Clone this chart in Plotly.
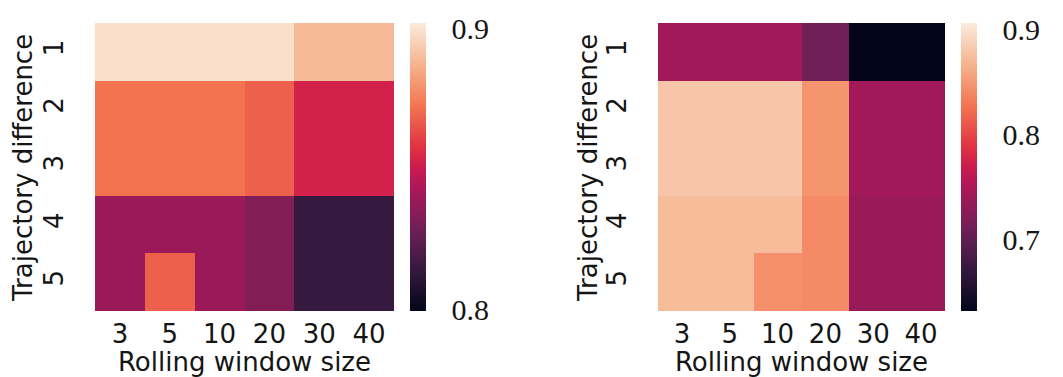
import plotly.graph_objects as go

# Axis categories
windows = ["3", "5", "10", "20", "30", "40"]
diffs = ["1", "2", "3", "4", "5"]

# Scores per trajectory difference (rows) and rolling window size (columns)
left_scores = [
    [0.899, 0.899, 0.899, 0.899, 0.889, 0.889],
    [0.872, 0.872, 0.872, 0.868, 0.853, 0.853],
    [0.872, 0.872, 0.872, 0.868, 0.853, 0.853],
    [0.839, 0.839, 0.839, 0.833, 0.8145, 0.8145],
    [0.839, 0.868, 0.839, 0.833, 0.8145, 0.8145],
]
right_scores = [
    [0.743, 0.743, 0.743, 0.710, 0.632, 0.632],
    [0.879, 0.879, 0.879, 0.847, 0.743, 0.743],
    [0.879, 0.879, 0.879, 0.847, 0.743, 0.743],
    [0.873, 0.873, 0.873, 0.841, 0.736, 0.736],
    [0.873, 0.873, 0.844, 0.841, 0.736, 0.736],
]

left_range = (0.7995, 0.902)
right_range = (0.632, 0.906)
left_ticks = [0.8, 0.9]
right_ticks = [0.7, 0.8, 0.9]

# seaborn "rocket" colormap approximation
rocket = [
    [0.0, "#03051a"],
    [1 / 7, "#35193e"],
    [2 / 7, "#701f57"],
    [3 / 7, "#ad1759"],
    [0.5, "#cb1b4f"],
    [4 / 7, "#e13342"],
    [5 / 7, "#f37651"],
    [6 / 7, "#f6b48f"],
    [1.0, "#faebdd"],
]

W, H = 1063, 377
SANS = "DejaVu Sans"
SERIF = "Liberation Serif"
TXT = "#151515"


def px_x(p):
    return p / W


def px_y(p):
    return 1 - p / H


panels = [
    dict(z=left_scores, rng=left_range, ticks=left_ticks, x0=95, x1=394, cb=410, ytitle=23),
    dict(z=right_scores, rng=right_range, ticks=right_ticks, x0=658, x1=945, cb=961, ytitle=588),
]

top, bottom = 23, 311

fig = go.Figure()
for i, p in enumerate(panels, start=1):
    fig.add_trace(
        go.Heatmap(
            z=p["z"],
            x=windows,
            y=diffs,
            xaxis=f"x{i if i > 1 else ''}",
            yaxis=f"y{i if i > 1 else ''}",
            colorscale=rocket,
            zmin=p["rng"][0],
            zmax=p["rng"][1],
            colorbar=dict(
                x=px_x(p["cb"]),
                xanchor="left",
                xpad=0,
                ypad=0,
                y=px_y((top + bottom) / 2),
                yanchor="middle",
                len=bottom - top,
                lenmode="pixels",
                thickness=16,
                thicknessmode="pixels",
                outlinewidth=0,
                tickvals=p["ticks"],
                ticktext=[f"{t:.1f}" for t in p["ticks"]],
                ticks="outside",
                ticklen=20,
                tickcolor="rgba(0,0,0,0)",
                tickfont=dict(family=SERIF, size=30, color=TXT),
            ),
        )
    )

axis_common = dict(
    showgrid=False,
    zeroline=False,
    showline=False,
    ticks="outside",
    tickcolor="rgba(0,0,0,0)",
    tickfont=dict(family=SANS, size=26, color=TXT),
    title_font=dict(family=SANS, size=26, color=TXT),
    type="category",
)

layout = dict(
    width=W,
    height=H,
    margin=dict(l=0, r=0, t=0, b=0),
    paper_bgcolor="white",
    plot_bgcolor="white",
)
annotations = []
for i, p in enumerate(panels, start=1):
    sfx = str(i) if i > 1 else ""
    layout[f"xaxis{sfx}"] = dict(
        axis_common,
        domain=[px_x(p["x0"]), px_x(p["x1"])],
        anchor=f"y{sfx}",
        ticklen=0,
        title=dict(text="Rolling window size", standoff=6),
    )
    layout[f"yaxis{sfx}"] = dict(
        axis_common,
        domain=[px_y(bottom), px_y(top)],
        anchor=f"x{sfx}",
        autorange="reversed",
        tickangle=-90,
        ticklen=21,
    )
    annotations.append(
        dict(
            text="Trajectory difference",
            textangle=-90,
            xref="paper",
            yref="paper",
            x=px_x(p["ytitle"]),
            y=px_y((top + bottom) / 2 + 1),
            xanchor="center",
            yanchor="middle",
            showarrow=False,
            font=dict(family=SANS, size=26, color=TXT),
        )
    )

fig.update_layout(**layout, annotations=annotations)
fig.write_html("out.html")
